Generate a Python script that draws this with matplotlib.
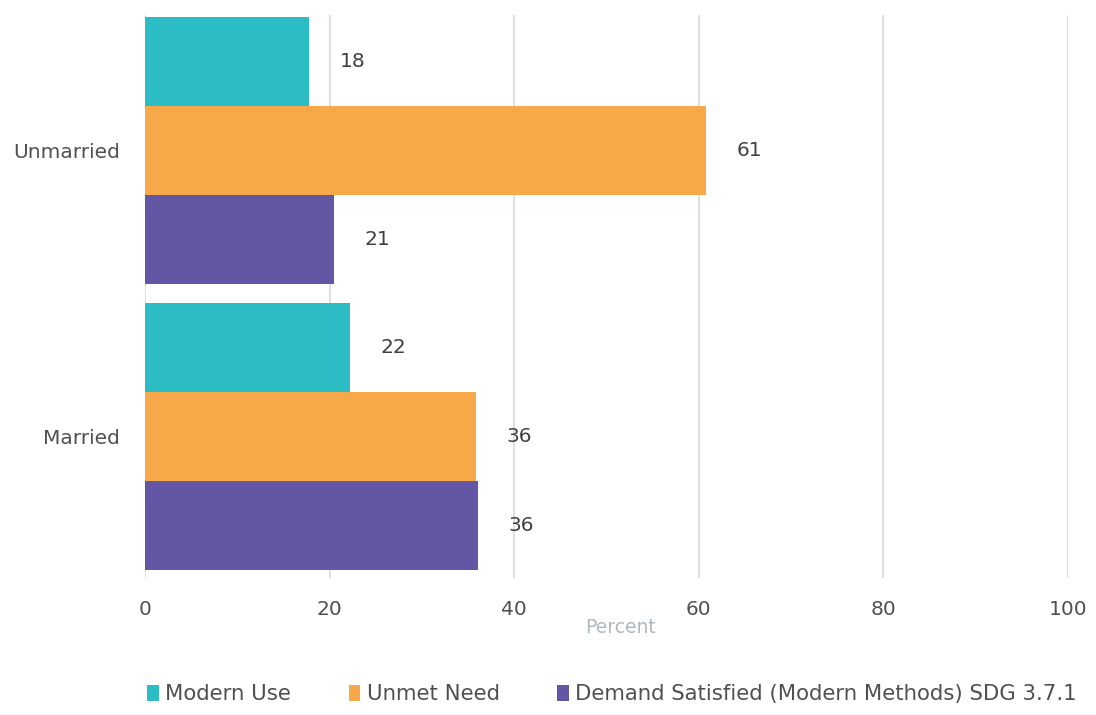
import matplotlib.pyplot as plt
import numpy as np

# data
groups = ['Married', 'Unmarried']
series = ['Modern Use', 'Unmet Need', 'Demand Satisfied (Modern Methods) SDG 3.7.1']
modern_use = [22.2, 17.8]
unmet_need = [35.9, 60.8]
demand_satisfied = [36.1, 20.5]
labels_modern = ['22', '18']
labels_unmet = ['36', '61']
labels_demand = ['36', '21']
colors = ['#2bbcc4', '#f7a94a', '#6356a5']

plt.rcParams['font.family'] = ['DejaVu Sans']

fig = plt.figure(figsize=(10.96, 7.15), dpi=100)
ax = fig.add_axes([0.1323, 0.1916, 0.8422, 0.7874])

y = np.arange(len(groups))
h = 0.311
values = [modern_use, unmet_need, demand_satisfied]
texts = [labels_modern, labels_unmet, labels_demand]
# top bar in each group is Modern Use, then Unmet Need, then Demand Satisfied
offsets = [h, 0, -h]
for vals, txt, off, col, name in zip(values, texts, offsets, colors, series):
    ax.barh(y + off, vals, height=h, color=col, label=name, zorder=3)
    for yi, v, t in zip(y, vals, txt):
        ax.text(v + 3.3, yi + off, t, va='center', ha='left',
                fontsize=14.5, color='#404040')

ax.set_xlim(0, 100)
ax.set_ylim(-0.495, 1.474)
ax.set_xticks(range(0, 101, 20))
ax.set_yticks(y)
ax.set_yticklabels(groups)
ax.tick_params(axis='both', length=0, labelsize=14.5, labelcolor='#505050')
ax.tick_params(axis='x', pad=16)
ax.tick_params(axis='y', pad=18)
ax.grid(axis='x', color='#d9d9d9', linewidth=1.2, zorder=0)
for s in ax.spines.values():
    s.set_visible(False)
fig.text(0.5666, 0.1217, 'Percent', color='#b0b8c0', fontsize=13.5,
         ha='center', va='center')

handles, lbls = ax.get_legend_handles_labels()
leg = fig.legend(handles, lbls, loc='center left', bbox_to_anchor=(0.1345, 0.029),
                 ncol=3, frameon=False, fontsize=15.3, handlelength=0.55,
                 handleheight=0.75, handletextpad=0.3, columnspacing=2.7,
                 borderaxespad=0, borderpad=0)
for t in leg.get_texts():
    t.set_color('#505050')

fig.savefig('out.png', dpi=100)
